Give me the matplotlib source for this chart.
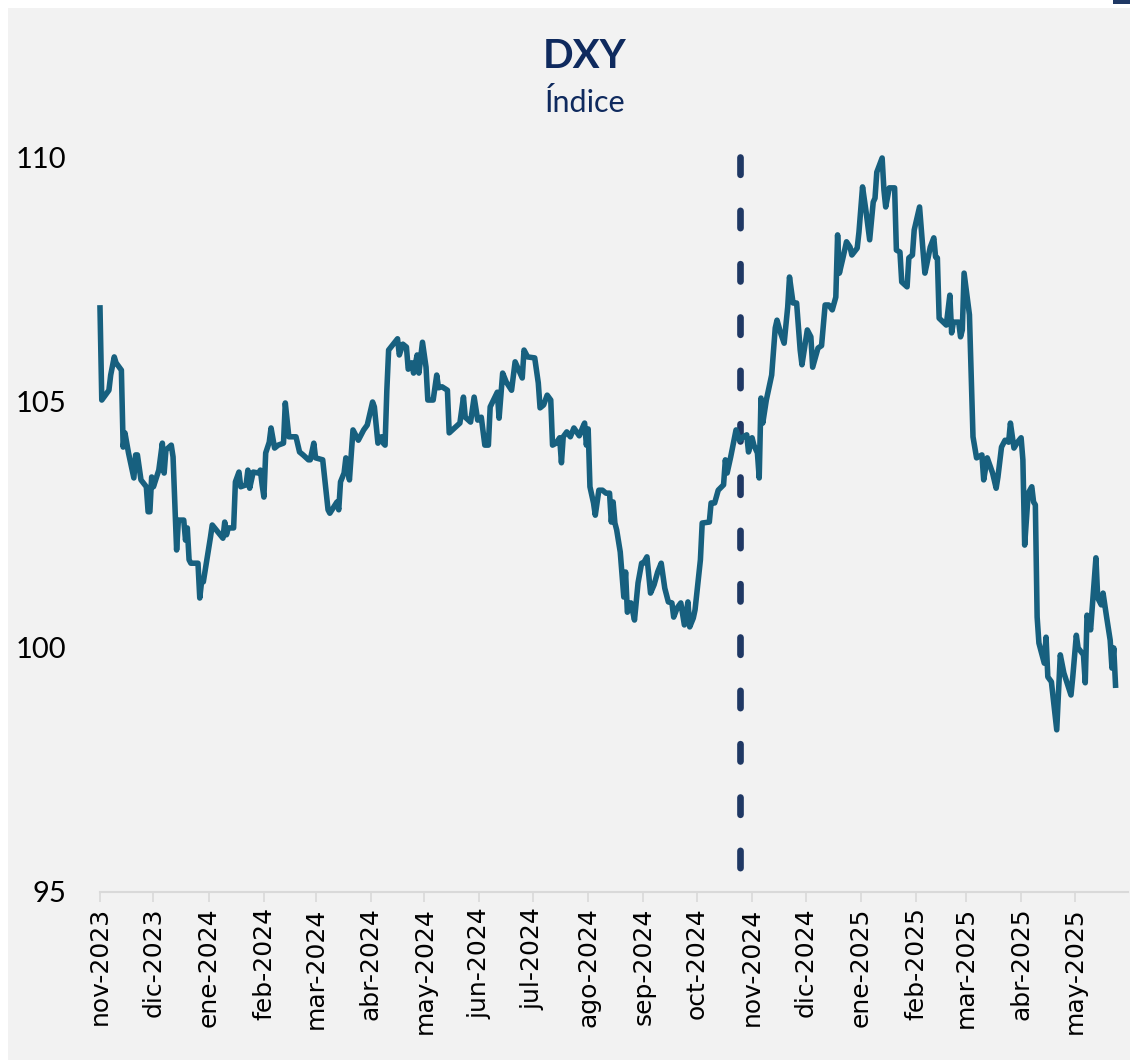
import matplotlib
matplotlib.use("Agg")
import matplotlib.pyplot as plt
import matplotlib.dates as mdates
from matplotlib.patches import Rectangle
import pandas as pd

# DXY daily close
dates = [
    "2023-11-01", "2023-11-02", "2023-11-06", "2023-11-07", "2023-11-09", "2023-11-10",
    "2023-11-13", "2023-11-14", "2023-11-15", "2023-11-17", "2023-11-20", "2023-11-21",
    "2023-11-22", "2023-11-24", "2023-11-27", "2023-11-28", "2023-11-29", "2023-11-30",
    "2023-12-01", "2023-12-04", "2023-12-06", "2023-12-07", "2023-12-08", "2023-12-11",
    "2023-12-12", "2023-12-14", "2023-12-15", "2023-12-18", "2023-12-19", "2023-12-20",
    "2023-12-21", "2023-12-22", "2023-12-26", "2023-12-27", "2023-12-28", "2023-12-29",
    "2024-01-02", "2024-01-03", "2024-01-09", "2024-01-10", "2024-01-11", "2024-01-12",
    "2024-01-15", "2024-01-16", "2024-01-18", "2024-01-19", "2024-01-22", "2024-01-23",
    "2024-01-24", "2024-01-26", "2024-01-29", "2024-01-30", "2024-01-31", "2024-02-01",
    "2024-02-02", "2024-02-04", "2024-02-05", "2024-02-07", "2024-02-09", "2024-02-12",
    "2024-02-13", "2024-02-15", "2024-02-16", "2024-02-19", "2024-02-21", "2024-02-23",
    "2024-02-26", "2024-02-27", "2024-02-29", "2024-03-01", "2024-03-05", "2024-03-08",
    "2024-03-09", "2024-03-13", "2024-03-14", "2024-03-15", "2024-03-17", "2024-03-18",
    "2024-03-20", "2024-03-22", "2024-03-25", "2024-03-28", "2024-03-30", "2024-04-02",
    "2024-04-03", "2024-04-05", "2024-04-07", "2024-04-08", "2024-04-09", "2024-04-10",
    "2024-04-11", "2024-04-14", "2024-04-16", "2024-04-17", "2024-04-19", "2024-04-21",
    "2024-04-22", "2024-04-24", "2024-04-25", "2024-04-27", "2024-04-28", "2024-04-30",
    "2024-05-02", "2024-05-03", "2024-05-06", "2024-05-08", "2024-05-09", "2024-05-11",
    "2024-05-14", "2024-05-15", "2024-05-18", "2024-05-21", "2024-05-23", "2024-05-24",
    "2024-05-27", "2024-05-29", "2024-05-31", "2024-06-02", "2024-06-04", "2024-06-06",
    "2024-06-07", "2024-06-11", "2024-06-12", "2024-06-14", "2024-06-16", "2024-06-19",
    "2024-06-21", "2024-06-25", "2024-06-26", "2024-06-28", "2024-07-02", "2024-07-04",
    "2024-07-05", "2024-07-07", "2024-07-09", "2024-07-11", "2024-07-12", "2024-07-14",
    "2024-07-16", "2024-07-17", "2024-07-18", "2024-07-20", "2024-07-22", "2024-07-24",
    "2024-07-27", "2024-07-29", "2024-07-30", "2024-07-31", "2024-08-01", "2024-08-02",
    "2024-08-04", "2024-08-05", "2024-08-07", "2024-08-09", "2024-08-11", "2024-08-13",
    "2024-08-14", "2024-08-15", "2024-08-16", "2024-08-17", "2024-08-19", "2024-08-21",
    "2024-08-22", "2024-08-23", "2024-08-25", "2024-08-27", "2024-08-29", "2024-08-31",
    "2024-09-01", "2024-09-03", "2024-09-05", "2024-09-07", "2024-09-09", "2024-09-11",
    "2024-09-13", "2024-09-15", "2024-09-17", "2024-09-18", "2024-09-20", "2024-09-22",
    "2024-09-24", "2024-09-26", "2024-09-27", "2024-09-29", "2024-09-30", "2024-10-03",
    "2024-10-04", "2024-10-08", "2024-10-09", "2024-10-11", "2024-10-13", "2024-10-16",
    "2024-10-17", "2024-10-18", "2024-10-20", "2024-10-21", "2024-10-23", "2024-10-25",
    "2024-10-27", "2024-10-29", "2024-10-30", "2024-11-01", "2024-11-02", "2024-11-04",
    "2024-11-05", "2024-11-06", "2024-11-07", "2024-11-09", "2024-11-12", "2024-11-14",
    "2024-11-15", "2024-11-17", "2024-11-19", "2024-11-21", "2024-11-22", "2024-11-24",
    "2024-11-26", "2024-11-28", "2024-11-29", "2024-12-02", "2024-12-04", "2024-12-05",
    "2024-12-08", "2024-12-10", "2024-12-12", "2024-12-14", "2024-12-16", "2024-12-18",
    "2024-12-19", "2024-12-20", "2024-12-22", "2024-12-24", "2024-12-26", "2024-12-27",
    "2024-12-30", "2024-12-31", "2025-01-02", "2025-01-04", "2025-01-06", "2025-01-08",
    "2025-01-09", "2025-01-10", "2025-01-13", "2025-01-14", "2025-01-15", "2025-01-17",
    "2025-01-20", "2025-01-21", "2025-01-23", "2025-01-24", "2025-01-27", "2025-01-28",
    "2025-01-30", "2025-01-31", "2025-02-03", "2025-02-05", "2025-02-06", "2025-02-07",
    "2025-02-09", "2025-02-11", "2025-02-12", "2025-02-13", "2025-02-14", "2025-02-18",
    "2025-02-20", "2025-02-21", "2025-02-22", "2025-02-25", "2025-02-26", "2025-02-27",
    "2025-02-28", "2025-03-03", "2025-03-05", "2025-03-07", "2025-03-10", "2025-03-11",
    "2025-03-13", "2025-03-16", "2025-03-18", "2025-03-19", "2025-03-21", "2025-03-23",
    "2025-03-25", "2025-03-26", "2025-03-28", "2025-03-30", "2025-04-01", "2025-04-02",
    "2025-04-03", "2025-04-05", "2025-04-07", "2025-04-08", "2025-04-09", "2025-04-10",
    "2025-04-11", "2025-04-14", "2025-04-15", "2025-04-16", "2025-04-18", "2025-04-21",
    "2025-04-23", "2025-04-25", "2025-04-29", "2025-04-30", "2025-05-02", "2025-05-03",
    "2025-05-06", "2025-05-07", "2025-05-08", "2025-05-10", "2025-05-13", "2025-05-14",
    "2025-05-16", "2025-05-17", "2025-05-19", "2025-05-21", "2025-05-22", "2025-05-23",
    "2025-05-24",
]
dxy = [
    106.92, 105.04, 105.24, 105.55, 105.92, 105.80,
    105.65, 104.08, 104.37, 103.96, 103.45, 103.92,
    103.92, 103.41, 103.27, 102.76, 102.76, 103.47,
    103.27, 103.61, 104.16, 103.55, 104.02, 104.12,
    103.88, 101.98, 102.59, 102.59, 102.18, 102.43,
    101.78, 101.71, 101.71, 101.00, 101.33, 101.33,
    102.24, 102.49, 102.22, 102.55, 102.29, 102.43,
    102.43, 103.37, 103.57, 103.27, 103.31, 103.61,
    103.24, 103.57, 103.55, 103.61, 103.31, 103.06,
    103.96, 104.18, 104.47, 104.06, 104.12, 104.16,
    104.98, 104.29, 104.29, 104.29, 103.98, 103.92,
    103.82, 103.82, 104.16, 103.86, 103.82, 102.80,
    102.73, 102.96, 102.80, 103.37, 103.55, 103.86,
    103.41, 104.43, 104.22, 104.43, 104.53, 105.00,
    104.90, 104.16, 104.29, 104.16, 104.12, 105.24,
    106.06, 106.20, 106.29, 105.96, 106.18, 106.12,
    105.67, 105.80, 105.59, 105.96, 105.59, 106.22,
    105.71, 105.04, 105.04, 105.55, 105.29, 105.31,
    105.24, 104.37, 104.47, 104.57, 105.10, 104.69,
    104.59, 105.10, 104.63, 104.69, 104.12, 104.12,
    104.90, 105.20, 104.67, 105.59, 105.41, 105.24,
    105.82, 105.49, 106.06, 105.92, 105.90, 105.39,
    104.88, 104.94, 105.14, 105.04, 104.12, 104.16,
    104.27, 103.76, 104.29, 104.39, 104.29, 104.47,
    104.31, 104.49, 104.57, 104.12, 104.45, 103.27,
    102.94, 102.69, 103.20, 103.20, 103.14, 103.14,
    102.55, 102.96, 102.53, 102.39, 101.94, 101.02,
    101.53, 100.71, 100.90, 100.55, 101.31, 101.71,
    101.71, 101.84, 101.10, 101.27, 101.53, 101.71,
    101.20, 100.92, 100.90, 100.61, 100.80, 100.90,
    100.45, 100.92, 100.41, 100.59, 100.76, 101.78,
    102.53, 102.55, 102.94, 102.94, 103.20, 103.31,
    103.82, 103.55, 103.88, 104.06, 104.43, 104.22,
    104.29, 104.33, 103.98, 104.27, 104.12, 103.96,
    103.45, 105.08, 104.57, 105.04, 105.55, 106.51,
    106.67, 106.41, 106.20, 106.94, 107.55, 107.02,
    107.02, 106.06, 105.76, 106.47, 106.33, 105.71,
    106.10, 106.15, 106.98, 106.98, 106.88, 107.14,
    108.41, 107.63, 107.94, 108.27, 108.16, 108.00,
    108.14, 108.47, 109.39, 108.88, 108.31, 109.08,
    109.16, 109.69, 109.98, 109.33, 108.98, 109.37,
    109.37, 108.10, 108.06, 107.45, 107.35, 107.94,
    108.00, 108.51, 108.98, 108.06, 107.63, 107.80,
    108.16, 108.35, 107.96, 107.94, 106.71, 106.57,
    107.18, 106.41, 106.63, 106.63, 106.33, 106.47,
    107.63, 106.78, 104.29, 103.86, 103.92, 103.41,
    103.86, 103.55, 103.24, 103.47, 104.08, 104.22,
    104.18, 104.57, 104.06, 104.18, 104.27, 103.82,
    102.08, 103.14, 103.27, 102.96, 102.90, 100.61,
    100.08, 99.67, 100.20, 99.39, 99.29, 98.31,
    99.84, 99.47, 99.02, 99.39, 100.24, 99.98,
    99.84, 99.27, 100.65, 100.35, 101.82, 101.00,
    100.86, 101.10, 100.61, 100.14, 99.57, 99.98,
    99.22,
]
event_date = "2024-10-25"
y_ticks = [95, 100, 105, 110]
month_names = ["ene", "feb", "mar", "abr", "may", "jun",
               "jul", "ago", "sep", "oct", "nov", "dic"]

series = pd.Series(dxy, index=pd.to_datetime(dates))

line_color = "#17607f"
navy = "#1f3864"
title_color = "#0f2a5e"
grey_axis = "#d9d9d9"

fig = plt.figure(figsize=(11.3, 10.6), dpi=100, facecolor="white")
fig.patches.append(Rectangle((8 / 1130, 0), 1, 1 - 8 / 1060,
                             transform=fig.transFigure, facecolor="#f2f2f2",
                             edgecolor="none", zorder=-10))
fig.patches.append(Rectangle((1113 / 1130, 1 - 4 / 1060), 17 / 1130, 4 / 1060,
                             transform=fig.transFigure, facecolor=navy,
                             edgecolor="none", zorder=-9))

ax = fig.add_axes([100 / 1130, 168 / 1060, 1028 / 1130, 735 / 1060])
ax.set_facecolor("none")

ax.plot(series.index, series.values, color=line_color, lw=4.0,
        solid_joinstyle="round", zorder=3, clip_on=False)
# vertical event marker, dashed from the top of the scale down
ev = pd.Timestamp(event_date)
ax.plot([ev, ev], [110, 95.25], color=navy, lw=4.8,
        dashes=(2.6, 5.4), dash_capstyle="round", zorder=2, clip_on=False)

ax.set_xlim(pd.Timestamp("2023-11-01"), pd.Timestamp("2025-05-31"))
ax.set_ylim(95, 110)
ax.set_yticks(y_ticks)
ax.set_yticklabels([str(v) for v in y_ticks], family="Lato", fontsize=21)

ax.xaxis.set_major_locator(mdates.MonthLocator())
ax.xaxis.set_major_formatter(plt.FuncFormatter(
    lambda v, _: f"{month_names[mdates.num2date(v).month - 1]}-{mdates.num2date(v).year}"))
for lbl in ax.get_xticklabels():
    lbl.set_family("DejaVu Sans")
ax.tick_params(axis="x", labelrotation=90, labelsize=18, length=7, width=1.2,
               color=grey_axis, pad=4)
ax.tick_params(axis="y", length=0, pad=24)

for side in ["top", "right", "left"]:
    ax.spines[side].set_visible(False)
ax.spines["bottom"].set_color(grey_axis)
ax.spines["bottom"].set_linewidth(1.5)

fig.text(585 / 1130, 1 - 57 / 1060, "DXY", ha="center", va="center",
         family="Lato", fontweight="bold", fontsize=29, color=title_color)
fig.text(585 / 1130, 1 - 103 / 1060, "Índice", ha="center", va="center",
         family="Lato", fontsize=22, color=title_color)

fig.savefig("out.png", dpi=100, facecolor=fig.get_facecolor())
